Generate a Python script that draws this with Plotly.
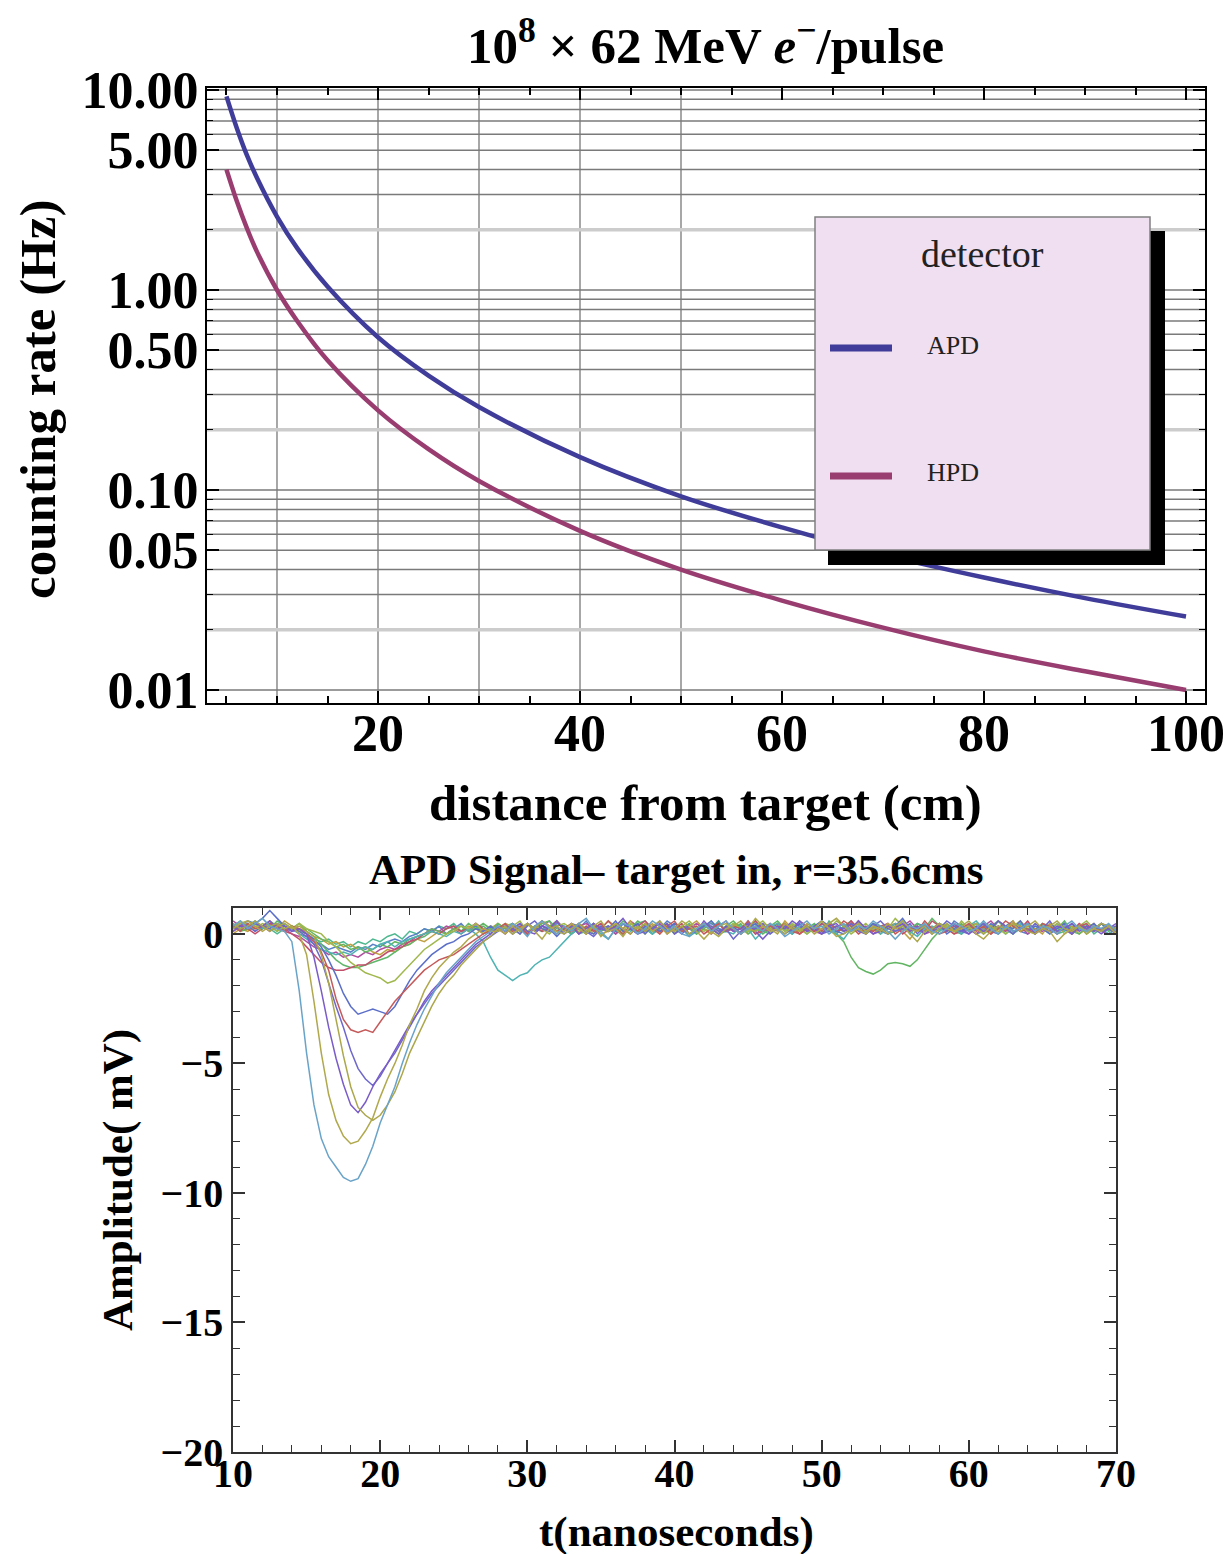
import plotly.graph_objects as go

W, H = 1229, 1554
def px(x): return x / W
def py(y): return 1 - y / H

FONT = "Liberation Serif"

# ---------------- top panel data ----------------
DIST_CM = [5, 6, 7, 8, 10, 12, 15, 20, 25, 30, 40, 50, 60, 70, 80, 90, 100]
RATE_APD = [9.3, 6.5, 4.75, 3.65, 2.33, 1.62, 1.04, 0.58, 0.373, 0.26, 0.146,
            0.093, 0.065, 0.0475, 0.0365, 0.0288, 0.0233]
RATE_HPD = [4.0, 2.8, 2.05, 1.56, 1.0, 0.70, 0.445, 0.25, 0.16, 0.111, 0.0625,
            0.04, 0.028, 0.0205, 0.0156, 0.0124, 0.01]
DETECTORS = ["APD", "HPD"]
Y_TICKS = [10, 5, 1, 0.5, 0.1, 0.05, 0.01]
Y_TICKTEXT = ["10.00", "5.00", "1.00", "0.50", "0.10", "0.05", "0.01"]
X_TICKS = [20, 40, 60, 80, 100]

# ---------------- bottom panel data ----------------
T_NS = [10.0, 10.5, 11.0, 11.5, 12.0, 12.5, 13.0, 13.5, 14.0, 14.5, 15.0, 15.5, 16.0, 16.5, 17.0, 17.5,
        18.0, 18.5, 19.0, 19.5, 20.0, 20.5, 21.0, 21.5, 22.0, 22.5, 23.0, 23.5, 24.0, 24.5, 25.0, 25.5,
        26.0, 26.5, 27.0, 27.5, 28.0, 28.5, 29.0, 29.5, 30.0, 30.5, 31.0, 31.5, 32.0, 32.5, 33.0, 33.5,
        34.0, 34.5, 35.0, 35.5, 36.0, 36.5, 37.0, 37.5, 38.0, 38.5, 39.0, 39.5, 40.0, 40.5, 41.0, 41.5,
        42.0, 42.5, 43.0, 43.5, 44.0, 44.5, 45.0, 45.5, 46.0, 46.5, 47.0, 47.5, 48.0, 48.5, 49.0, 49.5,
        50.0, 50.5, 51.0, 51.5, 52.0, 52.5, 53.0, 53.5, 54.0, 54.5, 55.0, 55.5, 56.0, 56.5, 57.0, 57.5,
        58.0, 58.5, 59.0, 59.5, 60.0, 60.5, 61.0, 61.5, 62.0, 62.5, 63.0, 63.5, 64.0, 64.5, 65.0, 65.5,
        66.0, 66.5, 67.0, 67.5, 68.0, 68.5, 69.0, 69.5, 70.0]

SIG_A = [0.3,0.5,0.2,0.4,0.6,0.3,0.2,0.1,-0.3,-2.2,-4.6,-6.6,-7.9,-8.6,-9.0,-9.4,-9.55,-9.45,-8.9,-8.2,-7.3,-6.6,-5.9,-5.0,-4.2,-3.5,-2.9,-2.4,-1.9,-1.5,-1.2,-0.9,-0.6,-0.3,-0.1,0.1] + \
        [0.3,0.1,0.4,0.2,-0.1,0.3,0.5,0.2,0.0,0.3,0.1,0.4,0.6,0.2,0.1,-0.2,0.2,0.4,0.3,0.0,
         0.2,0.5,0.3,0.1,0.3,0.0,-0.1,0.2,0.4,0.1,0.3,0.5,0.2,0.0,0.2,0.3,0.1,0.4,0.2,-0.1,
         0.1,0.3,0.5,0.2,0.3,0.0,0.2,0.4,0.1,0.3,0.2,0.5,0.3,0.1,-0.2,0.1,0.3,0.2,0.4,0.1,
         0.0,0.2,0.4,0.3,0.1,0.2,0.5,0.2,0.0,0.3,0.1,0.2,0.4,0.1,0.3,0.2,0.0,0.3,0.5,0.2,
         0.1,0.3,0.2,0.4,0.1]
SIG_B = [0.2,0.4,0.5,0.3,0.1,0.3,0.4,0.2,0.3,0.0,-0.8,-2.6,-4.6,-6.2,-7.2,-7.8,-8.1,-8.0,-7.6,-7.1,-6.3,-5.6,-5.0,-4.3,-3.5,-2.9,-2.2,-1.7,-1.3,-1.0,-0.7,-0.5,-0.2,0.0,0.2,0.1] + \
        [0.1,0.3,0.0,0.2,0.4,0.1,-0.2,0.2,0.3,0.1,0.4,0.2,0.0,0.3,0.5,0.1,0.2,-0.1,0.3,0.2,
         0.4,0.1,0.3,0.0,0.2,0.5,0.3,0.1,-0.2,0.1,0.3,0.4,0.2,0.0,0.2,0.6,0.3,0.1,0.2,0.0,
         0.3,0.1,0.4,0.2,0.5,0.2,-0.1,0.0,0.2,0.4,0.1,0.3,0.2,0.0,0.3,0.5,0.2,0.1,0.3,0.0,
         0.2,0.4,0.1,0.2,0.3,0.0,-0.2,0.1,0.3,0.2,0.4,0.1,0.3,0.5,0.2,0.1,-0.3,0.0,0.2,0.3,
         0.1,0.2,0.4,0.3,0.0]
SIG_C = [0.4,0.2,0.3,0.5,0.3,0.1,0.3,0.4,0.2,0.3,0.1,-0.1,-0.8,-1.9,-3.3,-4.7,-5.9,-6.7,-7.0,-7.2,-7.0,-6.6,-6.1,-5.4,-4.6,-4.0,-3.4,-2.8,-2.3,-1.9,-1.6,-1.2,-0.9,-0.6,-0.3,-0.1] + \
        [0.2,0.0,0.3,0.1,0.4,0.2,0.5,0.3,0.1,0.0,0.2,0.4,0.1,0.3,-0.1,0.2,0.4,0.2,0.0,0.3,
         0.1,0.3,0.5,0.2,0.1,0.3,0.0,0.2,0.4,0.1,-0.1,0.2,0.3,0.5,0.2,0.1,0.3,0.2,0.0,0.4,
         0.2,0.1,0.3,0.0,0.2,0.4,0.6,0.3,0.1,0.2,0.0,0.3,0.1,0.4,0.2,0.3,0.0,-0.3,0.1,0.2,
         0.4,0.2,0.1,0.3,0.5,0.2,0.0,0.3,0.1,0.2,0.4,0.3,0.1,0.0,0.2,0.3,0.5,0.2,0.1,0.3,
         0.0,0.2,0.1,0.3,0.2]
SIG_D = [0.1,0.3,0.2,0.4,0.3,0.5,0.2,0.3,0.1,0.2,0.0,-0.9,-2.2,-3.6,-4.8,-5.8,-6.6,-6.9,-6.5,-5.9,-5.4,-5.0,-4.5,-4.0,-3.5,-3.1,-2.6,-2.2,-1.9,-1.6,-1.3,-1.0,-0.7,-0.4,-0.2,0.0] + \
        [0.3,0.1,0.2,0.4,0.1,0.0,0.3,0.2,0.5,0.1,0.3,0.0,0.2,0.4,0.2,0.1,0.3,0.6,0.2,0.0,
         0.1,0.3,0.2,0.4,0.0,0.2,0.3,0.1,0.5,0.2,0.0,0.3,0.1,0.2,0.4,0.1,-0.2,0.1,0.3,0.2,
         0.5,0.3,0.1,0.2,0.0,0.3,0.4,0.1,0.2,0.5,0.2,0.0,0.1,0.3,0.2,0.4,0.1,0.3,0.0,0.2,
         0.3,0.1,0.4,0.2,0.0,0.3,0.1,0.2,0.5,0.3,0.1,0.2,0.4,0.0,0.2,0.1,0.3,0.2,0.4,0.1,
         0.3,0.2,0.0,0.2,0.4]
SIG_E = [0.2,0.4,0.3,0.1,0.3,0.2,0.4,0.3,0.2,0.1,-0.1,-0.4,-1.0,-1.9,-2.8,-3.6,-4.5,-5.2,-5.6,-5.85,-5.5,-5.0,-4.6,-4.1,-3.6,-3.1,-2.7,-2.3,-2.0,-1.7,-1.4,-1.1,-0.8,-0.5,-0.3,-0.1] + \
        [0.1,0.3,0.2,0.0,0.3,0.5,0.2,0.1,0.3,0.0,0.2,0.4,0.1,-0.1,0.2,0.3,0.1,0.4,0.2,0.0,
         0.3,0.2,0.5,0.1,0.2,0.0,0.3,0.1,0.4,0.3,0.1,0.2,-0.2,0.1,0.3,0.2,0.4,0.0,0.2,0.3,
         0.1,0.5,0.2,0.3,0.0,0.1,0.3,0.2,0.4,0.1,0.0,0.3,0.5,0.2,0.1,0.2,0.4,0.0,0.3,0.1,
         0.2,0.5,0.3,0.1,0.0,0.2,0.4,0.1,0.3,0.2,0.0,0.3,0.1,0.4,0.2,0.5,0.1,0.2,0.0,0.3,
         0.2,0.1,0.4,0.2,0.3]
SIG_F = [0.3,0.1,0.4,0.2,0.3,0.5,0.2,0.1,0.3,0.2,0.0,-0.3,-0.7,-1.4,-2.5,-3.3,-3.7,-3.8,-3.7,-3.8,-3.4,-3.0,-2.6,-2.3,-2.0,-1.7,-1.4,-1.2,-1.0,-0.9,-0.8,-0.6,-0.4,-0.2,0.0,0.1] + \
        [0.2,0.4,0.1,0.3,0.0,0.2,0.5,0.3,0.1,0.2,0.4,0.0,0.3,0.1,0.2,0.5,0.2,0.0,0.3,0.1,
         0.4,0.2,0.0,0.3,0.5,0.1,0.2,0.3,0.0,0.2,0.4,0.1,0.3,0.2,0.5,0.0,0.1,0.3,0.2,0.4,
         0.1,0.0,0.2,0.3,0.1,0.4,0.2,0.5,0.3,0.0,0.2,0.1,0.3,0.4,0.0,0.2,0.3,0.1,0.5,0.2,
         0.0,0.1,0.3,0.2,0.4,0.1,0.3,0.0,0.2,0.5,0.3,0.1,0.2,0.0,0.4,0.3,0.1,0.2,0.0,0.3,
         0.4,0.1,0.2,0.3,0.1]
SIG_G = [0.4,0.2,0.3,0.4,0.6,0.9,0.6,0.3,0.1,0.2,0.0,-0.2,-0.5,-1.0,-1.6,-2.3,-2.8,-3.1,-3.0,-2.9,-3.0,-3.1,-2.8,-2.3,-1.8,-1.4,-1.1,-0.8,-0.6,-0.4,-0.3,-0.1,0.0,0.2,0.1,0.3] + \
        [0.1,0.3,0.0,0.2,0.4,0.1,0.3,0.2,-0.1,0.2,0.4,0.3,0.1,0.0,0.3,0.2,0.5,0.1,0.2,0.4,
         0.0,0.3,0.1,0.2,0.4,0.2,0.0,0.1,0.3,0.5,0.2,0.1,0.3,0.0,0.2,0.4,0.1,0.3,0.2,0.0,
         0.2,0.4,0.1,0.3,0.5,0.3,0.1,0.0,0.2,0.3,0.1,0.4,0.2,0.0,0.3,0.6,0.2,0.1,0.3,0.2,
         0.4,0.0,0.2,0.1,0.3,0.2,0.4,0.1,0.0,0.3,0.2,0.5,0.1,0.3,0.2,0.0,0.2,0.4,0.1,0.3,
         0.2,0.4,0.1,0.2,0.0]
SIG_H = [0.2,0.5,0.3,0.2,0.4,0.3,0.1,0.3,0.2,0.4,0.2,0.1,0.0,-0.3,-0.5,-0.8,-1.1,-1.3,-1.5,-1.6,-1.7,-1.9,-1.8,-1.5,-1.2,-0.9,-0.6,-0.4,-0.2,0.0,0.1,0.3,0.2,0.4,0.1,0.3] + \
        [0.2,0.4,0.3,0.5,0.1,0.3,0.2,0.0,0.3,0.4,0.2,0.1,0.3,0.0,0.2,0.5,0.3,0.1,0.4,0.2,
         0.0,0.3,0.2,0.4,0.1,0.3,0.5,0.2,0.1,0.3,0.0,0.2,0.4,0.2,0.1,0.3,0.5,0.2,0.3,0.1,
         0.4,0.2,0.0,0.3,0.1,0.2,0.5,0.3,0.0,0.2,0.4,0.1,0.3,0.2,0.6,0.3,0.1,0.2,0.4,0.0,
         0.2,0.3,0.1,0.5,0.2,0.4,0.1,0.3,0.2,0.0,0.3,0.5,0.2,0.1,0.3,0.2,0.4,0.0,0.2,0.3,
         0.5,0.2,0.1,0.3,0.2]
SIG_I = [0.1,0.3,0.2,0.0,0.2,0.4,0.3,0.1,0.0,-0.2,-0.5,-0.8,-1.1,-1.3,-1.4,-1.4,-1.3,-1.2,-1.2,-1.0,-0.9,-0.7,-0.6,-0.5,-0.3,-0.2,0.0,0.1,0.0,0.2,0.3,0.1,0.2,0.4,0.2,0.1] + \
        [0.3,0.1,0.4,0.2,0.0,0.3,0.1,0.2,0.5,0.2,0.1,0.3,0.0,0.2,0.4,0.1,0.3,0.2,0.0,0.3,
         0.5,0.2,0.1,0.3,0.2,0.4,0.0,0.1,0.3,0.2,0.4,0.1,0.2,0.0,0.3,0.5,0.2,0.1,0.4,0.2,
         0.3,0.0,0.2,0.1,0.4,0.3,0.1,0.2,0.5,0.2,0.0,0.3,0.1,0.2,0.4,0.0,0.2,0.3,0.1,0.5,
         0.3,0.2,0.0,0.1,0.3,0.4,0.2,0.0,0.3,0.1,0.4,0.2,0.5,0.1,0.3,0.2,0.0,0.3,0.1,0.4,
         0.2,0.3,0.1,0.0,0.2]
SIG_J = [0.3,0.2,0.4,0.1,0.3,0.2,0.5,0.3,0.2,0.4,0.1,-0.1,-0.4,-0.7,-1.0,-1.2,-1.3,-1.3,-1.2,-1.1,-1.0,-0.9,-0.7,-0.5,-0.4,-0.2,-0.1,0.1,0.0,0.2,0.3,0.1,0.4,0.2,0.3,0.1] + \
        [0.4,0.2,0.1,0.3,0.0,0.2,0.4,0.5,0.2,0.1,0.3,0.2,0.0,0.4,0.1,0.3,0.2,0.5,0.3,0.1,
         0.2,0.0,0.3,0.1,0.4,0.2,0.3,0.0,0.2,0.5,0.1,0.3,0.2,0.4,0.0,0.2,0.1,0.3,0.5,0.2,
         0.0,0.3,0.2,0.4,0.1,0.2,0.0,0.3,0.5,0.1,0.2,0.4,0.3,0.0,0.1,0.3,0.2,0.4,0.2,0.6,
         0.3,0.1,0.2,0.0,0.4,0.2,0.3,0.1,0.5,0.2,0.0,0.3,0.2,0.1,0.4,0.3,0.2,0.5,0.1,0.0,
         0.3,0.2,0.4,0.1,0.3]
SIG_K = [0.2,0.4,0.3,0.5,0.2,0.3,0.1,0.4,0.2,0.0,-0.2,-0.4,-0.6,-0.7,-0.8,-0.7,-0.8,-0.6,-0.5,-0.6,-0.4,-0.3,-0.5,-0.3,-0.2,-0.1,0.0,0.1,0.0,-0.1,0.1,0.0,0.2,0.0,-0.3,-0.9] + \
        [-1.4,-1.6,-1.8,-1.6,-1.5,-1.2,-1.0,-0.9,-0.6,-0.3,0.0,0.2,0.1,0.3,0.0,-0.2,0.2,0.4,0.1,0.3,
         0.2,0.0,0.3,0.1,0.4,0.2,-0.1,0.1,0.3,0.2,0.5,0.1,0.0,0.3,0.2,-0.2,0.1,0.3,0.4,0.2,
         0.0,0.3,0.1,0.2,0.5,0.3,0.0,-0.2,0.2,0.4,0.1,0.3,0.0,0.2,0.4,0.3,0.1,-0.1,0.2,0.3,
         0.1,0.4,0.2,0.0,0.3,0.5,0.2,0.1,0.3,0.0,0.2,0.4,0.1,0.3,0.2,0.0,0.3,0.1,0.4,0.2,
         0.1,0.3,0.2,0.0,0.2]
SIG_L = [0.3,0.1,0.2,0.4,0.2,0.5,0.3,0.2,0.3,0.1,0.2,0.0,-0.2,-0.3,-0.5,-0.4,-0.6,-0.5,-0.7,-0.6,-0.4,-0.5,-0.3,-0.4,-0.2,-0.1,0.0,0.2,0.1,0.0,0.2,0.3,0.1,0.2,0.4,0.2] + \
        [0.1,0.3,0.2,0.0,0.4,0.2,0.1,0.3,0.5,0.2,0.0,0.3,0.1,0.2,0.4,0.1,0.3,0.0,0.2,0.5,
         0.3,0.1,0.2,0.4,0.0,0.3,0.2,0.1,0.4,0.2,0.0,0.3,0.5,0.2,0.1,0.3,0.0,0.2,0.4,0.1,
         0.3,0.2,0.0,0.2,0.3,0.1,0.0,
         -0.3,-0.9,-1.3,-1.45,-1.55,-1.4,-1.15,-1.1,-1.15,-1.25,-1.0,-0.6,-0.2,0.1,
         0.3,0.2,0.4,0.1,0.3,0.0,0.2,0.5,0.3,0.1,0.2,0.4,0.0,0.3,0.2,0.1,0.4,0.2,0.3,0.0,
         0.2,0.4,0.1,0.3]
SIG_M = [0.5,0.3,0.4,0.2,0.3,0.1,0.3,0.2,0.0,-0.1,-0.3,-0.5,-0.6,-0.8,-0.7,-0.9,-0.8,-0.9,-0.7,-0.8,-0.6,-0.5,-0.6,-0.4,-0.3,-0.1,0.0,0.2,0.1,0.3,0.2,0.0,0.2,0.4,0.1,0.3] + \
        [0.2,0.0,0.3,0.1,0.4,0.2,0.3,0.5,0.1,0.2,0.0,0.3,0.4,0.2,0.1,0.3,0.0,0.2,0.5,0.3,
         0.1,0.2,0.4,0.0,0.3,0.1,0.2,0.4,0.2,0.0,0.3,0.5,0.1,0.2,0.3,0.0,0.2,0.4,0.1,0.3,
         0.2,0.5,0.3,0.1,0.0,0.2,0.3,0.1,0.4,0.2,0.3,0.0,0.2,0.4,0.1,0.3,0.5,0.2,0.0,0.1,
         0.3,0.2,0.4,0.1,0.2,0.0,0.3,0.5,0.2,0.1,0.4,0.3,0.0,0.2,0.1,0.3,0.2,0.4,0.0,0.2,
         0.3,0.1,0.4,0.2,0.1]
SIG_N = [0.2,0.3,0.5,0.4,0.2,0.3,0.4,0.1,0.2,0.0,-0.1,-0.3,-0.4,-0.6,-0.5,-0.6,-0.7,-0.5,-0.6,-0.4,-0.5,-0.3,-0.2,-0.3,-0.1,0.0,0.2,0.1,0.3,0.0,0.2,0.4,0.1,0.3,0.2,0.0] + \
        [0.3,0.1,0.2,0.4,0.0,0.3,0.2,0.1,0.4,0.3,0.0,0.2,0.5,0.1,0.3,0.2,0.0,0.4,0.2,0.1,
         0.3,0.0,0.2,0.5,0.3,0.1,0.2,0.0,0.3,0.4,0.2,0.1,0.3,0.0,0.5,0.2,0.1,0.3,0.2,0.4,
         0.0,0.2,0.3,0.1,0.4,0.2,0.0,0.3,0.1,0.5,0.2,0.4,0.1,0.0,0.3,0.2,0.1,0.4,0.3,0.0,
         0.2,0.1,0.5,0.3,0.2,0.0,0.1,0.4,0.2,0.3,0.5,0.1,0.0,0.2,0.3,0.1,0.4,0.2,0.0,0.3,
         0.1,0.2,0.4,0.3,0.2]
SIG_O = [0.0,0.2,0.1,0.3,0.2,0.4,0.2,0.5,0.3,0.2,0.1,-0.1,-0.2,-0.4,-0.3,-0.5,-0.4,-0.6,-0.5,-0.7,-0.8,-0.6,-0.7,-0.5,-0.4,-0.2,-0.3,-0.1,0.1,0.0,0.2,0.1,0.3,0.2,0.0,0.2] + \
        [0.4,0.2,0.0,0.3,0.1,0.2,0.5,0.3,0.0,0.2,0.1,0.4,0.2,0.3,0.0,0.1,0.3,0.2,0.5,0.1,
         0.2,0.4,0.0,0.3,0.2,0.1,0.3,0.5,0.2,0.0,0.4,0.1,0.3,0.2,0.0,0.2,0.4,0.3,0.1,0.5,
         0.2,0.0,0.3,0.1,0.2,0.4,0.0,0.3,0.2,0.5,0.1,0.2,0.0,0.3,0.4,0.1,-0.2,0.2,0.3,0.1,
         0.4,0.2,0.0,0.3,0.1,0.2,0.4,0.3,0.0,0.2,0.5,0.1,0.3,0.2,0.0,0.4,0.1,0.2,0.3,0.0,
         0.2,0.4,0.1,0.3,0.2]
SIG_P = [0.3,0.5,0.2,0.4,0.3,0.2,0.0,0.2,0.3,0.1,0.0,-0.2,-0.3,-0.2,-0.4,-0.3,-0.5,-0.3,-0.4,-0.2,-0.3,-0.1,0.0,-0.2,0.1,0.0,0.2,0.1,0.3,0.2,0.4,0.1,0.2,0.3,0.0,0.2] + \
        [0.1,0.3,0.4,0.2,0.0,0.2,0.3,0.1,0.5,0.2,0.3,0.0,0.1,0.4,0.2,0.3,0.1,0.0,0.2,0.4,
         0.5,0.2,0.1,0.3,0.0,0.2,0.4,0.1,0.3,0.2,0.0,0.1,0.4,0.3,0.2,0.5,0.1,0.0,0.3,0.2,
         0.4,0.1,0.3,0.2,0.0,0.5,0.2,0.1,0.3,0.4,0.0,0.2,0.1,0.3,0.2,0.5,0.0,0.3,0.1,0.2,
         0.4,0.3,0.1,0.0,0.2,0.4,0.1,0.3,0.5,0.2,0.0,0.2,0.3,0.1,0.4,0.2,0.0,0.1,0.3,0.2,
         0.4,0.0,0.2,0.3,0.1]

SIGNALS = [SIG_P, SIG_N, SIG_M, SIG_O, SIG_L, SIG_J, SIG_I, SIG_K, SIG_H, SIG_G,
           SIG_F, SIG_E, SIG_D, SIG_C, SIG_B, SIG_A]
SIG_COLORS = ["#4fb890", "#5a80c8", "#b04fa0", "#c0a040", "#62b562", "#5fb86a", "#c24f6a",
              "#4fb3b3", "#a0b84d", "#5b6fc9", "#c55a5a", "#6f68cc", "#7a5cc8", "#aca74a",
              "#b0a84c", "#6aa3c8"]

fig = go.Figure()

# ---------------- top panel ----------------
APD_COLOR = "#3f3d99"
HPD_COLOR = "#993d71"
fig.add_trace(go.Scatter(x=DIST_CM, y=RATE_APD, mode="lines", name=DETECTORS[0],
                         line=dict(color=APD_COLOR, width=4.5, shape="spline"),
                         xaxis="x", yaxis="y"))
fig.add_trace(go.Scatter(x=DIST_CM, y=RATE_HPD, mode="lines", name=DETECTORS[1],
                         line=dict(color=HPD_COLOR, width=4.5, shape="spline"),
                         xaxis="x", yaxis="y"))

# ---------------- bottom panel ----------------
for sig, col in zip(SIGNALS, SIG_COLORS):
    fig.add_trace(go.Scatter(x=T_NS, y=sig, mode="lines",
                             line=dict(color=col, width=1.5),
                             xaxis="x2", yaxis="y2", showlegend=False))

shapes = []
GRID_X = [10, 20, 30, 40, 50]
for gx in GRID_X:
    shapes.append(dict(type="line", xref="x", yref="y domain", x0=gx, x1=gx, y0=0, y1=1,
                       line=dict(color="#8a8a8a", width=1.5), layer="below"))
GRID_Y_DARK = []
GRID_Y_LIGHT = []
for dec in [0.01, 0.1, 1]:
    for m in [1, 3, 4, 5, 6, 7, 8, 9]:
        GRID_Y_DARK.append(round(m * dec, 4))
    GRID_Y_LIGHT.append(round(2 * dec, 4))
GRID_Y_DARK.append(10)
for gy in GRID_Y_LIGHT:
    shapes.append(dict(type="line", xref="x domain", yref="y", x0=0, x1=1, y0=gy, y1=gy,
                       line=dict(color="#cccccc", width=3.5), layer="below"))
for gy in GRID_Y_DARK:
    shapes.append(dict(type="line", xref="x domain", yref="y", x0=0, x1=1, y0=gy, y1=gy,
                       line=dict(color="#7a7a7a", width=1.5), layer="below"))

# legend box with shadow
shapes.append(dict(type="rect", xref="paper", yref="paper",
                   x0=px(828), x1=px(1165), y0=py(565), y1=py(231),
                   fillcolor="black", line=dict(width=0), layer="above"))
shapes.append(dict(type="rect", xref="paper", yref="paper",
                   x0=px(815), x1=px(1150), y0=py(550), y1=py(217),
                   fillcolor="#f0dff0", line=dict(color="#808080", width=1.5), layer="above"))
for yy, col in [(348, APD_COLOR), (476, HPD_COLOR)]:
    shapes.append(dict(type="line", xref="paper", yref="paper",
                       x0=px(830), x1=px(892), y0=py(yy), y1=py(yy),
                       line=dict(color=col, width=7), layer="above"))

big = dict(family=FONT, size=51, color="black", weight="bold")
tick_top = dict(family=FONT, size=52, color="black", weight="bold")
small = dict(family=FONT, size=43, color="black", weight="bold")
tick_bot = dict(family=FONT, size=40, color="black", weight="bold")

annotations = [
    dict(text="10<sup>8</sup> × 62 MeV <i>e</i><sup>−</sup>/pulse", x=px(705), y=py(42),
         font=big),
    dict(text="distance from target (cm)", x=px(705), y=py(803), font=big),
    dict(text="counting rate (Hz)", x=px(38), y=py(400), textangle=-90, font=big),
    dict(text="detector", x=px(982), y=py(254),
         font=dict(family=FONT, size=38, color="#222")),
    dict(text=DETECTORS[0], x=px(953), y=py(345),
         font=dict(family=FONT, size=26, color="#222")),
    dict(text=DETECTORS[1], x=px(953), y=py(472),
         font=dict(family=FONT, size=26, color="#222")),
    dict(text="APD Signal– target in, r=35.6cms", x=px(676), y=py(869), font=small),
    dict(text="t(nanoseconds)", x=px(676), y=py(1532), font=small),
    dict(text="Amplitude( mV)", x=px(118), y=py(1180), textangle=-90, font=small),
]
for a in annotations:
    a.update(xref="paper", yref="paper", showarrow=False, xanchor="center", yanchor="middle")

MINOR_X_TOP = [5, 10, 15, 25, 30, 35, 45, 50, 55, 65, 70, 75, 85, 90, 95]
MINOR_Y_TOP = [v for v in GRID_Y_DARK + GRID_Y_LIGHT if v not in Y_TICKS]

fig.update_layout(
    width=W, height=H, autosize=False,
    margin=dict(l=0, r=0, t=0, b=0, pad=0, autoexpand=False),
    paper_bgcolor="white", plot_bgcolor="white",
    showlegend=False,
    shapes=shapes, annotations=annotations,
    xaxis=dict(domain=[px(207), px(1205)], range=[3.07, 101.88], anchor="y",
               automargin=False,
               tickmode="array", tickvals=X_TICKS, ticks="inside", ticklen=12, tickwidth=1.5,
               tickcolor="black", showline=True, linecolor="black", linewidth=2,
               mirror="allticks", showgrid=False, zeroline=False, tickfont=tick_top,
               ticklabelstandoff=-16,
               minor=dict(tickmode="array", tickvals=MINOR_X_TOP, ticks="inside",
                          ticklen=7, tickwidth=1.5, tickcolor="black", showgrid=False)),
    yaxis=dict(domain=[py(703), py(88)], type="log", range=[-2.065, 1.01], anchor="x",
               automargin=False,
               tickmode="array", tickvals=Y_TICKS, ticktext=Y_TICKTEXT, ticks="inside",
               ticklen=12, tickwidth=1.5, tickcolor="black", showline=True,
               linecolor="black", linewidth=2, mirror="allticks", showgrid=False,
               zeroline=False, tickfont=tick_top, ticklabelstandoff=-4,
               minor=dict(tickmode="array", tickvals=MINOR_Y_TOP, ticks="inside",
                          ticklen=6, tickwidth=1.2, tickcolor="black", showgrid=False)),
    xaxis2=dict(domain=[px(233), px(1116)], range=[10, 70], anchor="y2",
                automargin=False,
                tickmode="linear", tick0=10, dtick=10, ticks="inside", ticklen=12,
                tickwidth=1.5, tickcolor="#333", showline=True, linecolor="#333",
                linewidth=1.5, mirror="allticks", showgrid=False, zeroline=False,
                tickfont=tick_bot, ticklabelstandoff=-15,
                minor=dict(tickmode="linear", tick0=10, dtick=2, ticks="inside", ticklen=7,
                           tickwidth=1.2, tickcolor="#333", showgrid=False)),
    yaxis2=dict(domain=[py(1452), py(908)], range=[-20, 1], anchor="x2",
                automargin=False,
                tickmode="linear", tick0=0, dtick=5, ticks="inside", ticklen=12,
                tickwidth=1.5, tickcolor="#333", showline=True, linecolor="#333",
                linewidth=1.5, mirror="allticks", showgrid=False, zeroline=False,
                tickfont=tick_bot, ticklabelstandoff=0,
                minor=dict(tickmode="linear", tick0=0, dtick=1, ticks="inside", ticklen=7,
                           tickwidth=1.2, tickcolor="#333", showgrid=False)),
)

fig.write_html("out.html")
